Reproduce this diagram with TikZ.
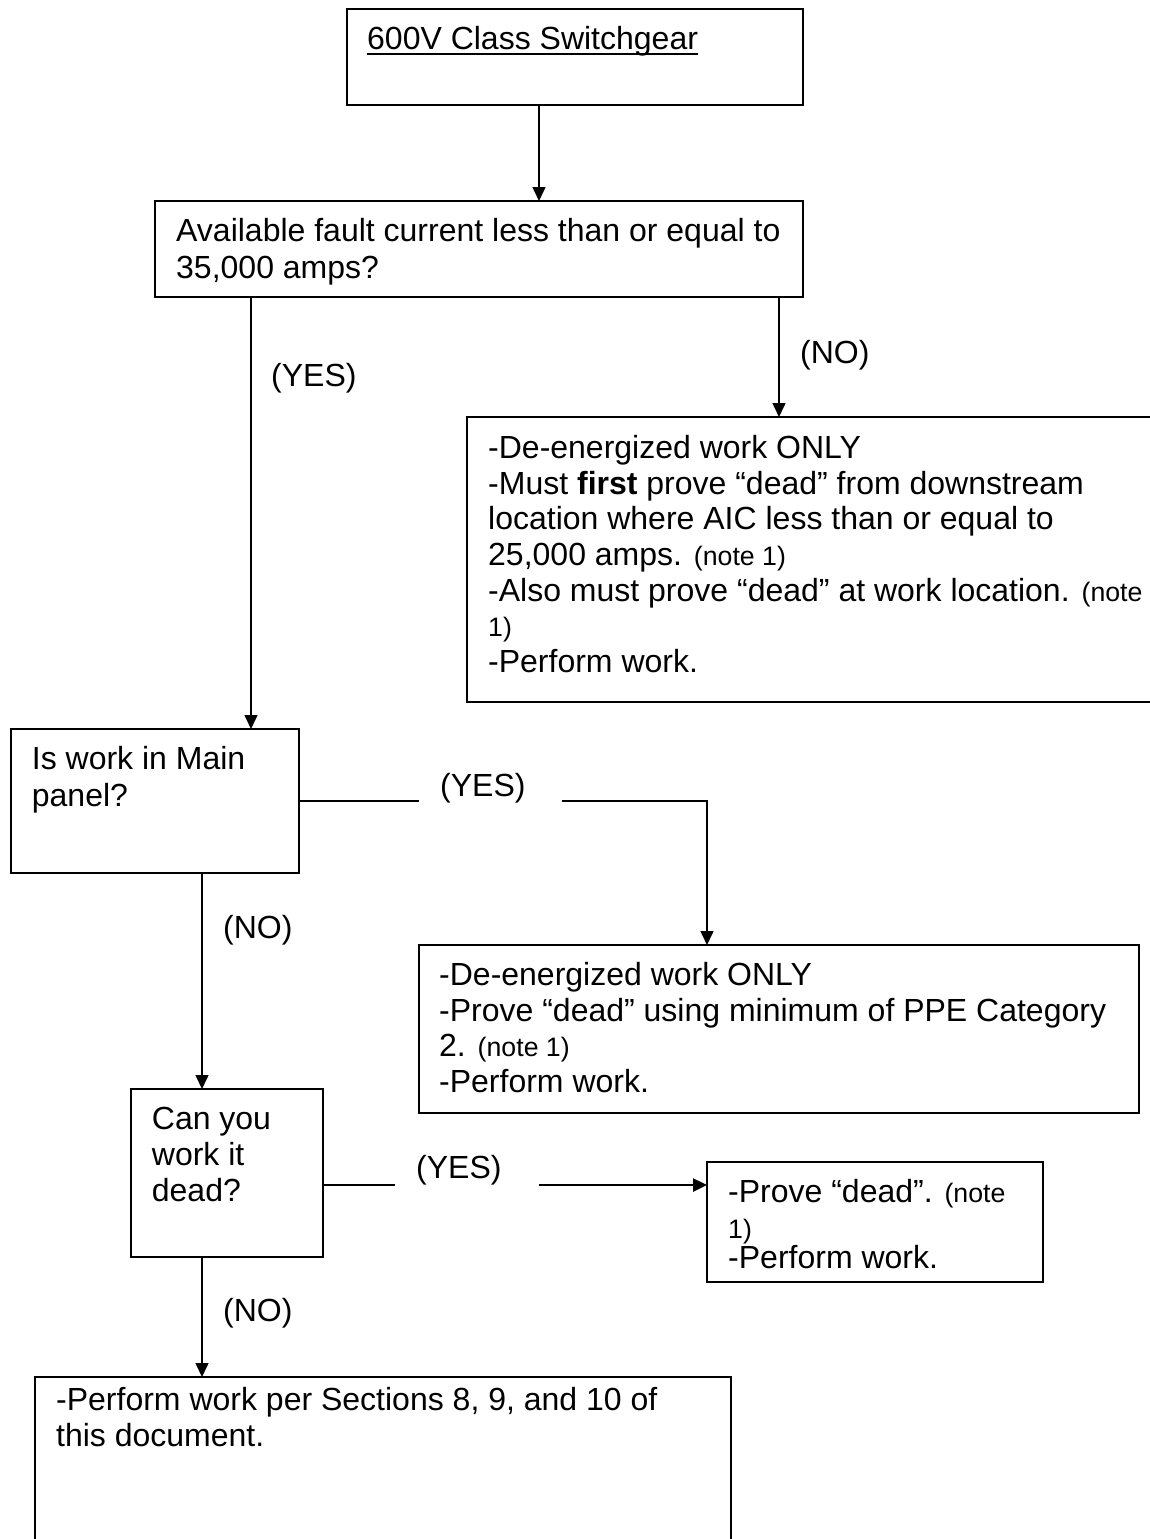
\documentclass[tikz,border=0pt]{standalone}
\usepackage{fontspec}
\setmainfont{Liberation Sans}
\usepackage{tikz}
\usetikzlibrary{arrows.meta}

\newsavebox\ulbox
\newcommand{\ulined}[1]{\sbox\ulbox{#1}\rlap{\rule[-6.3pt]{\wd\ulbox}{2.4pt}}\usebox\ulbox}
\newcommand{\nt}[1]{{\fontsize{26.7}{30}\selectfont #1}}

\begin{document}
\begin{tikzpicture}[x=1pt, y=-1pt,
    box/.style={draw, line width=1.8pt, inner sep=0pt, outer sep=0pt, anchor=north west},
    txt/.style={inner sep=0pt, anchor=north west, align=left, font=\fontsize{32}{35.7}\selectfont},
    lbl/.style={inner sep=0pt, anchor=base west, font=\fontsize{32}{36}\selectfont},
    conn/.style={line width=1.5pt},
    arr/.style={-{Triangle[length=14pt, width=13pt]}}]
    \useasboundingbox (0,0) rectangle (1149,1539);

    % boxes
    \node[box, minimum width=456pt, minimum height=96pt] (sw) at (347,9) {};
    \node[lbl] (swtxt) at (367,49) {\ulined{600V Class Switchgear}};

    \node[box, minimum width=648pt, minimum height=96pt] (fault) at (155,201) {};
    \node[txt, font=\fontsize{32}{37.3}\selectfont] (faulttxt) at (176,218) {Available fault current less than or equal to\\35,000 amps?};

    \node[box, minimum width=685pt, minimum height=285pt] (deen1) at (467,417) {};
    \node[txt] (deen1txt) at (488,435) {-De-energized work ONLY\\-Must \textbf{first} prove “dead” from downstream\\location where AIC less than or equal to\\25,000 amps. \nt{(note 1)}\\-Also must prove “dead” at work location. \nt{(note}\\\nt{1)}\\-Perform work.};

    \node[box, minimum width=288pt, minimum height=144pt] (mainpnl) at (11,729) {};
    \node[txt, font=\fontsize{32}{37}\selectfont] (mainpnltxt) at (31.7,746) {Is work in Main\\panel?};

    \node[box, minimum width=720pt, minimum height=168pt] (deen2) at (419,945) {};
    \node[txt] (deen2txt) at (439,962) {-De-energized work ONLY\\-Prove “dead” using minimum of PPE Category\\2. \nt{(note 1)}\\-Perform work.};

    \node[box, minimum width=192pt, minimum height=168pt] (workdead) at (131,1089) {};
    \node[txt, font=\fontsize{32}{36}\selectfont] (workdeadtxt) at (151.7,1107) {Can you\\work it\\dead?};

    \node[box, minimum width=336pt, minimum height=120pt] (provedead) at (707,1162) {};
    \node[txt, font=\fontsize{32}{36}\selectfont] (provedeadtxt) at (728,1179) {-Prove “dead”. \nt{(note}\\\nt{1)}\\[-6pt]-Perform work.};

    \node[box, minimum width=696pt, minimum height=170pt] (sections) at (35,1377) {};
    \node[txt, font=\fontsize{32}{36}\selectfont] (sectionstxt) at (56,1387) {-Perform work per Sections 8, 9, and 10 of\\this document.};

    % answers
    \node[lbl] (yes1) at (271,386.5) {(YES)};
    \node[lbl] (no1) at (800,363) {(NO)};
    \node[lbl] (yes2) at (440,796) {(YES)};
    \node[lbl] (no2) at (223,938) {(NO)};
    \node[lbl] (yes3) at (416,1178) {(YES)};
    \node[lbl] (no3) at (223,1321) {(NO)};

    % connectors
    \draw[conn, arr] ([xshift=192pt]sw.south west) -- ([xshift=384pt]fault.north west);
    \draw[conn, arr] ([xshift=96pt]fault.south west) -- ([xshift=240pt]mainpnl.north west);
    \draw[conn, arr] ([xshift=624pt]fault.south west) -- ([xshift=312pt]deen1.north west);

    \coordinate (gap2a) at (419,801);
    \coordinate (gap2b) at (562,801);
    \draw[conn] (mainpnl.east) -- (gap2a);
    \draw[conn, arr] (gap2b) -| ([xshift=288pt]deen2.north west);
    \draw[conn, arr] ([xshift=191pt]mainpnl.south west) -- ([xshift=71pt]workdead.north west);

    \coordinate (gap3a) at (395,1185);
    \coordinate (gap3b) at (539,1185);
    \draw[conn, line width=2.5pt] ([yshift=-96pt]workdead.north east) -- (gap3a);
    \draw[conn, line width=2.5pt, arr] (gap3b) -- ([yshift=-23pt]provedead.north west);
    \draw[conn, arr] ([xshift=71pt]workdead.south west) -- ([xshift=167pt]sections.north west);
\end{tikzpicture}
\end{document}
